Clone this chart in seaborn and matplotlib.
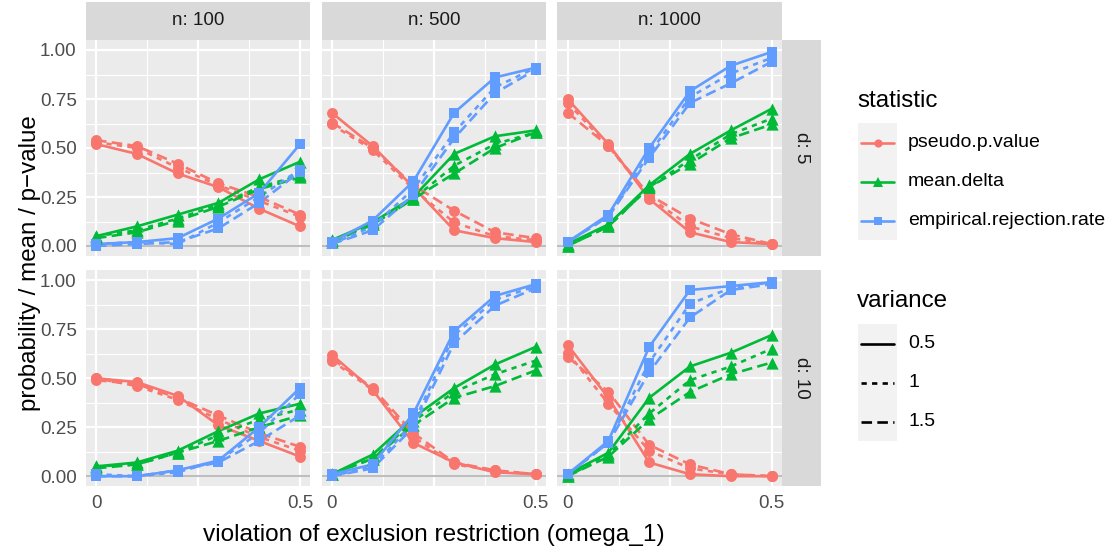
import matplotlib
matplotlib.use("Agg")
import matplotlib.pyplot as plt
import pandas as pd
import seaborn as sns
from matplotlib.lines import Line2D
from matplotlib.patches import Rectangle

# ---- simulation summary -------------------------------------------------
omega = [0.0, 0.1, 0.2, 0.3, 0.4, 0.5]
sample_sizes = [100, 500, 1000]
dims = [5, 10]
variances = ["0.5", "1", "1.5"]
statistics = ["pseudo.p.value", "mean.delta", "empirical.rejection.rate"]

# each entry: one row per variance (0.5, 1, 1.5), one column per omega_1
pvalue_d5 = {
    100: [[0.52, 0.47, 0.37, 0.30, 0.19, 0.10],
          [0.53, 0.50, 0.40, 0.31, 0.23, 0.15],
          [0.54, 0.51, 0.42, 0.32, 0.25, 0.16]],
    500: [[0.68, 0.51, 0.30, 0.08, 0.04, 0.02],
          [0.62, 0.49, 0.29, 0.12, 0.05, 0.03],
          [0.63, 0.50, 0.31, 0.18, 0.07, 0.04]],
    1000: [[0.75, 0.52, 0.24, 0.07, 0.02, 0.01],
           [0.73, 0.51, 0.25, 0.10, 0.04, 0.01],
           [0.68, 0.51, 0.26, 0.14, 0.06, 0.01]],
}
delta_d5 = {
    100: [[0.05, 0.10, 0.16, 0.22, 0.34, 0.43],
          [0.05, 0.08, 0.14, 0.21, 0.30, 0.36],
          [0.04, 0.07, 0.13, 0.20, 0.29, 0.35]],
    500: [[0.03, 0.12, 0.25, 0.47, 0.56, 0.59],
          [0.03, 0.11, 0.24, 0.41, 0.52, 0.58],
          [0.02, 0.11, 0.24, 0.37, 0.50, 0.58]],
    1000: [[0.01, 0.11, 0.31, 0.47, 0.59, 0.70],
           [0.00, 0.10, 0.30, 0.44, 0.57, 0.65],
           [0.00, 0.10, 0.30, 0.42, 0.55, 0.62]],
}
rejection_d5 = {
    100: [[0.01, 0.02, 0.04, 0.14, 0.27, 0.52],
          [0.01, 0.02, 0.01, 0.12, 0.25, 0.39],
          [0.00, 0.01, 0.02, 0.09, 0.22, 0.38]],
    500: [[0.02, 0.13, 0.33, 0.68, 0.86, 0.91],
          [0.01, 0.10, 0.29, 0.58, 0.81, 0.91],
          [0.01, 0.08, 0.26, 0.55, 0.78, 0.90]],
    1000: [[0.02, 0.16, 0.50, 0.79, 0.92, 0.99],
           [0.02, 0.15, 0.47, 0.76, 0.88, 0.96],
           [0.02, 0.15, 0.45, 0.73, 0.83, 0.94]],
}
pvalue_d10 = {
    100: [[0.50, 0.48, 0.41, 0.26, 0.18, 0.10],
          [0.50, 0.46, 0.39, 0.29, 0.20, 0.13],
          [0.49, 0.47, 0.40, 0.31, 0.22, 0.15]],
    500: [[0.62, 0.44, 0.17, 0.07, 0.02, 0.01],
          [0.59, 0.44, 0.20, 0.06, 0.03, 0.01],
          [0.60, 0.45, 0.22, 0.07, 0.03, 0.01]],
    1000: [[0.67, 0.40, 0.07, 0.01, 0.00, 0.00],
           [0.63, 0.37, 0.13, 0.04, 0.01, 0.00],
           [0.61, 0.43, 0.16, 0.06, 0.01, 0.00]],
}
delta_d10 = {
    100: [[0.05, 0.07, 0.13, 0.23, 0.32, 0.37],
          [0.05, 0.06, 0.12, 0.21, 0.29, 0.34],
          [0.04, 0.06, 0.12, 0.18, 0.25, 0.31]],
    500: [[0.01, 0.11, 0.30, 0.45, 0.57, 0.66],
          [0.01, 0.09, 0.28, 0.43, 0.52, 0.59],
          [0.01, 0.09, 0.26, 0.40, 0.46, 0.54]],
    1000: [[0.01, 0.12, 0.40, 0.56, 0.63, 0.72],
           [0.00, 0.11, 0.32, 0.49, 0.56, 0.65],
           [0.00, 0.10, 0.29, 0.43, 0.52, 0.58]],
}
rejection_d10 = {
    100: [[0.00, 0.00, 0.03, 0.08, 0.25, 0.45],
          [0.01, 0.00, 0.02, 0.08, 0.22, 0.42],
          [0.00, 0.00, 0.03, 0.07, 0.18, 0.31]],
    500: [[0.01, 0.06, 0.32, 0.74, 0.92, 0.98],
          [0.00, 0.05, 0.27, 0.72, 0.90, 0.97],
          [0.00, 0.04, 0.25, 0.68, 0.87, 0.96]],
    1000: [[0.01, 0.18, 0.66, 0.95, 0.97, 0.99],
           [0.01, 0.17, 0.58, 0.88, 0.96, 0.99],
           [0.01, 0.17, 0.53, 0.81, 0.95, 0.98]],
}

x_ticks = [0.0, 0.25, 0.5]
x_ticklabels = ["0", "", "0.5"]
y_ticks = [0.0, 0.25, 0.5, 0.75, 1.0]
y_ticklabels = ["0.00", "0.25", "0.50", "0.75", "1.00"]

# ---- long table ---------------------------------------------------------
tables = {
    5: {"pseudo.p.value": pvalue_d5, "mean.delta": delta_d5,
        "empirical.rejection.rate": rejection_d5},
    10: {"pseudo.p.value": pvalue_d10, "mean.delta": delta_d10,
         "empirical.rejection.rate": rejection_d10},
}
rows = []
for d in dims:
    for stat in statistics:
        for n in sample_sizes:
            for vi, var in enumerate(variances):
                for x, v in zip(omega, tables[d][stat][n][vi]):
                    rows.append(dict(d=d, n=n, statistic=stat, variance=var,
                                     omega=x, value=v))
df = pd.DataFrame(rows)

# ---- styling ------------------------------------------------------------
sns.set_theme(style="white")
plt.rcParams["font.family"] = ["Liberation Sans", "DejaVu Sans"]

palette = {"pseudo.p.value": "#F8766D", "mean.delta": "#00BA38",
           "empirical.rejection.rate": "#619CFF"}
markers = {"pseudo.p.value": "o", "mean.delta": "^",
           "empirical.rejection.rate": "s"}
marker_sizes = {"pseudo.p.value": 62, "mean.delta": 78,
                "empirical.rejection.rate": 52}
dashes = {"0.5": "", "1": (2, 2), "1.5": (4, 2)}

W, H = 1116, 554
fig = plt.figure(figsize=(W / 100, H / 100), dpi=100)


def px_axes(x, y, w, h, **kw):
    return fig.add_axes([x / W, 1 - (y + h) / H, w / W, h / H], **kw)


col_x = [85.8, 321.6, 557.4]
panel_w = 224.4
row_y = [40.2, 270.4]
panel_h = 215.6
LW = 1.9

for ri, d in enumerate(dims):
    for ci, n in enumerate(sample_sizes):
        ax = px_axes(col_x[ci], row_y[ri], panel_w, panel_h)
        ax.set_facecolor("#EBEBEB")
        for s in ax.spines.values():
            s.set_visible(False)
        ax.set_xlim(-0.025, 0.525)
        ax.set_ylim(-0.05, 1.05)
        ax.set_xticks(x_ticks)
        ax.set_xticks([0.125, 0.375], minor=True)
        ax.set_yticks(y_ticks)
        ax.set_yticks([0.125, 0.375, 0.625, 0.875], minor=True)
        ax.grid(which="major", color="white", linewidth=1.6)
        ax.grid(which="minor", color="white", linewidth=0.8)
        ax.set_axisbelow(True)
        ax.tick_params(which="minor", length=0)
        ax.tick_params(which="major", length=3.4, width=0.8, color="#333333",
                       labelcolor="#4D4D4D", labelsize=13.6, pad=3.2)
        if ci == 0:
            ax.set_yticklabels(y_ticklabels)
        else:
            ax.tick_params(axis="y", length=0, labelleft=False)
        if ri == 1:
            ax.set_xticklabels(x_ticklabels)
        else:
            ax.tick_params(axis="x", length=0, labelbottom=False)

        ax.axhline(0, color="#BEBEBE", linewidth=1.5, zorder=1)

        sub = df[(df.d == d) & (df.n == n)]
        sns.lineplot(data=sub, x="omega", y="value", hue="statistic",
                     hue_order=statistics, palette=palette, style="variance",
                     style_order=variances, dashes=dashes, markers=False,
                     estimator=None, linewidth=LW, legend=False, ax=ax,
                     zorder=2)
        for stat in statistics:
            ss = sub[sub.statistic == stat]
            sns.scatterplot(data=ss, x="omega", y="value", color=palette[stat],
                            marker=markers[stat], s=marker_sizes[stat],
                            linewidth=0, legend=False, ax=ax, zorder=3)
        ax.set_xlabel("")
        ax.set_ylabel("")

# facet strips
for ci, n in enumerate(sample_sizes):
    fig.add_artist(Rectangle(((col_x[ci]) / W, 1 - 39.5 / H), panel_w / W,
                             38 / H, transform=fig.transFigure,
                             facecolor="#D9D9D9", edgecolor="none"))
    fig.text((col_x[ci] + panel_w / 2) / W, 1 - 20.5 / H, f"n: {n}",
             ha="center", va="center", fontsize=13.6, color="#1A1A1A")
for ri, d in enumerate(dims):
    fig.add_artist(Rectangle((782 / W, 1 - (row_y[ri] + panel_h) / H),
                             39 / W, panel_h / H, transform=fig.transFigure,
                             facecolor="#D9D9D9", edgecolor="none"))
    fig.text(801.5 / W, 1 - (row_y[ri] + panel_h / 2) / H, f"d: {d}",
             ha="center", va="center", rotation=-90, fontsize=13.6,
             color="#1A1A1A")

# axis titles
fig.text(433.5 / W, 1 - 535 / H,
         "violation of exclusion restriction (omega_1)", ha="center",
         va="center", fontsize=17.6, color="black")
fig.text(30 / W, 1 - 263 / H, "probability / mean / p\u2212value",
         ha="center", va="center", rotation=90, fontsize=17.4, color="black")

# legends
def key_box(top, count):
    fig.add_artist(Rectangle((858 / W, 1 - (top + 39 * count) / H), 39 / W,
                             39 * count / H, transform=fig.transFigure,
                             facecolor="#F2F2F2", edgecolor="none"))


fig.text(857 / W, 1 - 101 / H, "statistic", ha="left", va="center",
         fontsize=17.4, color="black")
key_box(123, 3)
for i, stat in enumerate(statistics):
    yc = 1 - (142.5 + 39 * i) / H
    fig.add_artist(Line2D([861 / W, 894 / W], [yc, yc], color=palette[stat],
                          linewidth=LW, transform=fig.transFigure))
    fig.add_artist(Line2D([877.5 / W], [yc], color=palette[stat],
                          marker=markers[stat], linestyle="none",
                          markersize=marker_sizes[stat] ** 0.5 * 0.75,
                          markeredgewidth=0, transform=fig.transFigure))
    fig.text(908 / W, yc, stat, ha="left", va="center", fontsize=14,
             color="black")

fig.text(857 / W, 1 - 301 / H, "variance", ha="left", va="center",
         fontsize=17.4, color="black")
key_box(324, 3)
for i, var in enumerate(variances):
    yc = 1 - (343.5 + 39 * i) / H
    ln = Line2D([861 / W, 894 / W], [yc, yc], color="black", linewidth=LW,
                transform=fig.transFigure)
    if dashes[var]:
        ln.set_dashes(dashes[var])
    fig.add_artist(ln)
    fig.text(908 / W, yc, var, ha="left", va="center", fontsize=14,
             color="black")

fig.savefig("out.png", dpi=100)
